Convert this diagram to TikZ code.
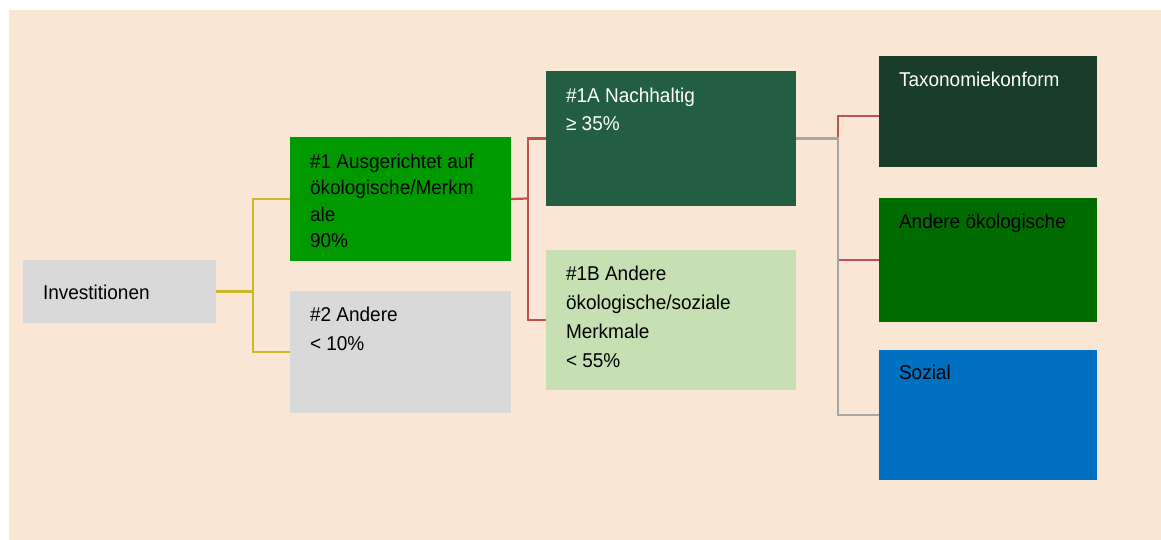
\documentclass[tikz,border=0pt]{standalone}
\usepackage{fontspec}
\setmainfont{Liberation Sans}[FakeStretch=0.95]
\definecolor{bgpeach}{HTML}{FAE6D4}
\definecolor{boxgray}{HTML}{D9D9D9}
\definecolor{green1}{HTML}{009900}
\definecolor{green1a}{HTML}{235E43}
\definecolor{green1b}{HTML}{C6E0B4}
\definecolor{taxgreen}{HTML}{193D28}
\definecolor{andgreen}{HTML}{006B00}
\definecolor{sozblue}{HTML}{0070C0}
\definecolor{lineyel}{HTML}{CCB82A}
\definecolor{linered}{HTML}{C0504D}
\definecolor{linegray}{HTML}{A6A6A6}
\newcommand{\lnst}{\rule{0pt}{20pt}}
\begin{document}
\begin{tikzpicture}[x=1pt,y=-1pt,
  box/.style={draw=none,inner sep=0pt,outer sep=0pt,anchor=north west},
  lbl/.style={inner sep=0pt,outer sep=0pt,anchor=north west,align=left,font=\fontsize{20}{29}\selectfont},
  conn/.style={line width=2.2pt,line join=miter}]
\useasboundingbox (0,0) rectangle (1161,540);
\fill[bgpeach] (9,10) rectangle (1161,540);
% boxes
\node[box,fill=boxgray,minimum width=193pt,minimum height=63pt] (inv) at (23,260) {};
\node[box,fill=green1,minimum width=221pt,minimum height=124pt] (n1) at (290,137) {};
\node[box,fill=boxgray,minimum width=221pt,minimum height=122pt] (n2) at (290,291) {};
\node[box,fill=green1a,minimum width=250pt,minimum height=135pt] (n1a) at (546,71) {};
\node[box,fill=green1b,minimum width=250pt,minimum height=140pt] (n1b) at (546,250) {};
\node[box,fill=taxgreen,minimum width=218pt,minimum height=111pt] (tax) at (879,56) {};
\node[box,fill=andgreen,minimum width=218pt,minimum height=124pt] (and) at (879,198) {};
\node[box,fill=sozblue,minimum width=218pt,minimum height=130pt] (soz) at (879,350) {};
% labels
\node[lbl] (invt) at (43,279.3) {\lnst Investitionen};
\node[lbl,font=\fontsize{20}{26}\selectfont] (n1t) at (310,149) {\lnst\#1 Ausgerichtet auf\\ökologische/Merkm\\ale\\90\%};
\node[lbl,font=\fontsize{20}{29.7}\selectfont] (n2t) at (310,301) {\lnst\#2 Andere\\< 10\%};
\node[lbl,text=white,font=\fontsize{20}{28.5}\selectfont] (n1at) at (566,82.3) {\lnst\#1A Nachhaltig\\≥ 35\%};
\node[lbl,font=\fontsize{20}{29.3}\selectfont] (n1bt) at (566,260) {\lnst\#1B Andere\\ökologische/soziale\\Merkmale\\< 55\%};
\node[lbl,text=white] (taxt) at (899,66.7) {\lnst Taxonomiekonform};
\node[lbl] (andt) at (899,208) {\lnst Andere ökologische};
\node[lbl] (sozt) at (899,359) {\lnst Sozial};
% junctions
\coordinate (j1) at (253,291.5);
\coordinate (j2) at (528,198.5);
\coordinate (j3) at (838,138.5);
% connectors
\draw[conn,lineyel] (inv.east) -- (j1);
\draw[conn,lineyel] (n1.west) -| (j1) |- (n2.west);
\draw[conn,linered] (n1.east) -- (j2);
\draw[conn,linered] (n1a.west) -| (j2) |- (n1b.west);
\draw[conn,linered] ([yshift=-4.5pt]tax.west) -| (j3) |- (and.west);
\draw[conn,linegray] (n1a.east) -- (j3) |- (soz.west);
\end{tikzpicture}
\end{document}
